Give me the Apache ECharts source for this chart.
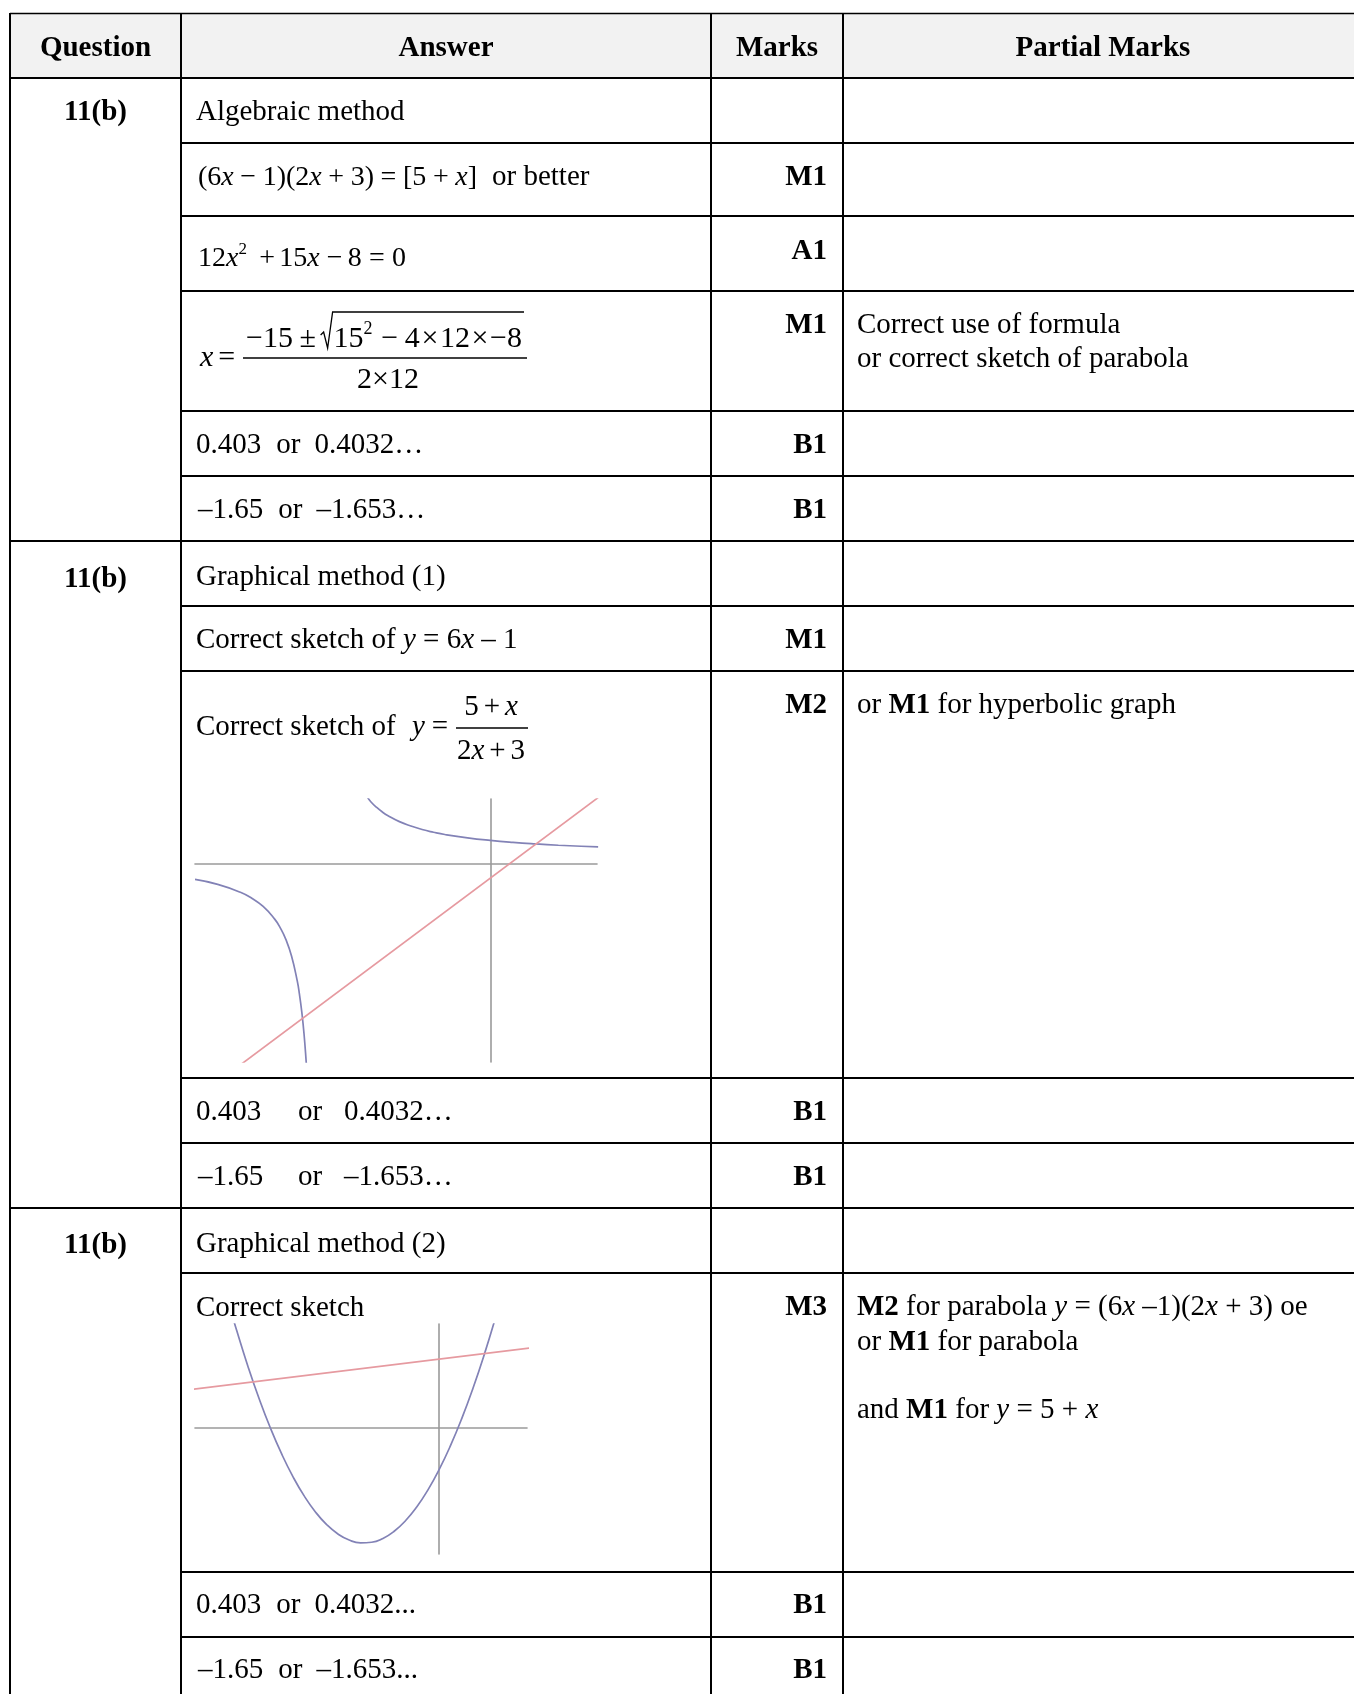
<!DOCTYPE html>
<html><head><meta charset="utf-8">
<script src="https://cdn.jsdelivr.net/npm/echarts@6/dist/echarts.min.js"></script>
<style>html,body{margin:0;padding:0;background:#fff}#c{width:1354px;height:1694px}</style>
</head><body><div id="c"></div><script>
// ---------- data ----------
const headers = ['Question', 'Answer', 'Marks', 'Partial Marks'];
const questionLabel = '11(b)';
const marks = ['M1', 'A1', 'M1', 'B1', 'B1', 'M1', 'M2', 'B1', 'B1', 'M3', 'B1', 'B1'];
// sketch 1 : y=(5+x)/(2x+3) and y=6x-1
const sketch1X = [-2.6, 0.94];
const sketch1Y = [-14, 4.6];
const hypLeft = [[-2.6,-1.09],[-2.4,-1.44],[-2.2,-2.0],[-2.1,-2.42],[-2.0,-3.0],[-1.9,-3.88],[-1.85,-4.5],[-1.8,-5.33],[-1.75,-6.5],[-1.7,-8.25],[-1.68,-9.22],[-1.66,-10.44],[-1.64,-12.0],[-1.62,-14.08],[-1.615,-14.7]];
const hypRight = [[-1.08,4.71],[-1.05,4.39],[-1.0,4.0],[-0.95,3.68],[-0.9,3.42],[-0.8,3.0],[-0.7,2.69],[-0.6,2.44],[-0.5,2.25],[-0.4,2.09],[-0.2,1.85],[0,1.67],[0.2,1.53],[0.4,1.42],[0.6,1.33],[0.8,1.26],[0.95,1.21]];
const line1 = [[-2.2,-14.2],[0.95,4.7]];
// sketch 2 : y=(6x-1)(2x+3) and y=5+x
const sketch2X = [-2.17, 0.78];
const sketch2Y = [-9.13, 7.54];
const parabola = [[-1.85,8.47],[-1.8,7.08],[-1.7,4.48],[-1.6,2.12],[-1.5,0],[-1.4,-1.88],[-1.3,-3.52],[-1.2,-4.92],[-1.1,-6.08],[-1.0,-7.0],[-0.9,-7.68],[-0.8,-8.12],[-0.7,-8.32],[-0.6,-8.28],[-0.5,-8.0],[-0.4,-7.48],[-0.3,-6.72],[-0.2,-5.72],[-0.1,-4.48],[0,-3.0],[0.1,-1.28],[0.2,0.68],[0.3,2.88],[0.4,5.32],[0.5,8.0]];
const line2 = [[-2.2,2.8],[0.8,5.8]];

// ---------- helpers ----------
const FF = '"Liberation Serif","Times New Roman",serif';
const mctx = document.createElement('canvas').getContext('2d');
function mw(t, f){ mctx.font = f; return mctx.measureText(t).width; }
const offCache = {};
function midOff(f){
  if (offCache[f] === undefined){
    mctx.font = f; mctx.textBaseline = 'middle';
    offCache[f] = mctx.measureText('H').actualBoundingBoxDescent;
    mctx.textBaseline = 'alphabetic';
  }
  return offCache[f];
}
const L = [];
function seg(x1,y1,x2,y2,w,c){ L.push({type:'line', silent:true, z:10, shape:{x1:x1,y1:y1,x2:x2,y2:y2}, style:{stroke:c||'#000', lineWidth:w||2}}); }
function run(x0, base, items, o){
  o = o || {};
  const size = o.size || 29;
  const parts = [];
  items.forEach(function(it){
    if (typeof it === 'number'){ parts.push({gap:it}); return; }
    if (it && it.rad !== undefined){ parts.push({rad:it.rad}); return; }
    let t, s;
    if (typeof it === 'string'){ t = it; s = ''; } else { t = it[0]; s = it[1]; }
    const sup = s.indexOf('s') >= 0;
    const sz = sup ? Math.round(size*0.6) : size;
    const f = (s.indexOf('i')>=0?'italic ':'') + (s.indexOf('b')>=0?'bold ':'') + sz + 'px ' + FF;
    parts.push({t:t, f:f, sup:sup, w:mw(t,f)});
  });
  let nat = 0, ng = 0;
  parts.forEach(function(p){
    if (p.gap !== undefined){ nat += p.gap; ng++; }
    else if (p.rad !== undefined) nat += p.rad;
    else nat += p.w;
  });
  let extra = 0;
  if (o.fit){ extra = ng ? (o.fit - nat)/ng : 0; nat = o.fit; }
  let x = o.align === 'center' ? x0 - nat/2 : (o.align === 'right' ? x0 - nat : x0);
  let radX = null;
  parts.forEach(function(p){
    if (p.gap !== undefined){ x += p.gap + extra; return; }
    if (p.rad !== undefined){ radX = x; x += p.rad; return; }
    const by = p.sup ? base - size*0.42 : base;
    L.push({type:'text', silent:true, z:20, style:{text:p.t, x:x, y:by - midOff(p.f), font:p.f, fill:'#000', align:'left', verticalAlign:'middle'}});
    x += p.w;
  });
  return {end:x, radX:radX};
}

// ---------- table frame ----------
const X0 = 10, XR = 1363, C1 = 181, C2 = 711, C3 = 843, YT = 13, YB = 1700;
L.push({type:'rect', silent:true, z:1, shape:{x:X0, y:YT, width:XR-X0, height:78-YT}, style:{fill:'#f2f2f2'}});
seg(X0, 13.5, XR, 13.5, 1.5);
seg(X0, 78, XR, 78, 2);
[143,216,291,411,476,606,671,1078,1143,1273,1572,1637].forEach(function(y){ seg(C1, y, XR, y, 2); });
[541,1208].forEach(function(y){ seg(X0, y, XR, y, 2); });
[X0, C1, C2, C3].forEach(function(x){ seg(x, YT, x, YB, 2); });

// ---------- header ----------
const hc = [95.5, 446, 777, 1103];
headers.forEach(function(h, i){ run(hc[i], 56, [[h,'b']], {align:'center'}); });

// ---------- question column ----------
[120, 587, 1253].forEach(function(y){ run(95.5, y, [[questionLabel,'b']], {align:'center'}); });

// ---------- marks column ----------
const markBase = [185, 259, 333, 453, 518, 648, 713, 1120, 1185, 1315, 1613, 1678];
marks.forEach(function(m, i){ run(827, markBase[i], [[m,'b']], {align:'right'}); });

// ---------- answers ----------
const AX = 196;
run(AX, 120, ['Algebraic method']);
run(198, 185, ['(6',['x','i'],0,'\u2212',0,'1)(2',['x','i'],0,'+',0,'3)',0,'=',0,'[5',0,'+',0,['x','i'],']'], {size:28, fit:279});
run(492, 185, ['or better']);
run(198, 266, ['12',['x','i'],['2','s'],9,'+',1,'15',['x','i'],4,'\u2212',2,'8',4,'=',4,'0'], {size:28, fit:208});
// quadratic formula
run(200, 366, [['x','i'],5,'='], {size:30});
const num = run(246, 347, ['\u221215',6,'\u00b1',3,{rad:14},'15',['2','s'],8,'\u2212',6,'4',1,'\u00d7',1,'12',1,'\u00d7',1,'\u22128'], {size:30, fit:276});
L.push({type:'polyline', silent:true, z:20, shape:{points:[[num.radX+1,335],[num.radX+4,332],[num.radX+8,348],[num.radX+13,312],[num.end+2,312]]}, style:{stroke:'#000', lineWidth:1.3, fill:null}});
seg(243, 358, 527, 358, 1.3);
run(388, 388, ['2','\u00d7','12'], {size:30, align:'center'});

run(AX, 453, ['0.403',15,'or',14,'0.4032\u2026']);
run(198, 518, ['\u20131.65',15,'or',14,'\u20131.653\u2026']);

run(AX, 585, ['Graphical method (1)']);
run(AX, 648, ['Correct sketch of ',['y','i'],' = 6',['x','i'],' \u2013 1']);
run(AX, 735, ['Correct sketch of']);
run(412, 735, [['y','i'],7,'='], {size:29});
run(491, 715, ['5',5,'+',5,['x','i']], {size:29, align:'center'});
seg(456, 728, 528, 728, 1.3);
run(491, 759, ['2',['x','i'],5,'+',5,'3'], {size:29, align:'center'});

run(AX, 1120, ['0.403']); run(298, 1120, ['or']); run(344, 1120, ['0.4032\u2026']);
run(198, 1185, ['\u20131.65']); run(298, 1185, ['or']); run(344, 1185, ['\u20131.653\u2026']);

run(AX, 1252, ['Graphical method (2)']);
run(AX, 1316, ['Correct sketch']);
run(AX, 1613, ['0.403',15,'or',14,'0.4032...']);
run(198, 1678, ['\u20131.65',15,'or',14,'\u20131.653...']);

// ---------- partial marks ----------
const PX = 857;
run(PX, 333, ['Correct use of formula']);
run(PX, 367, ['or correct sketch of parabola']);
run(PX, 713, ['or ',['M1','b'],' for hyperbolic graph']);
run(PX, 1315, [['M2','b'],' for parabola ',['y','i'],' = (6',['x','i'],' \u20131)(2',['x','i'],' + 3) oe']);
run(PX, 1350, ['or ',['M1','b'],' for parabola']);
run(PX, 1418, ['and ',['M1','b'],' for ',['y','i'],' = 5 + ',['x','i']]);

// ---------- chart ----------
function ax(i, r){ return {type:'value', gridIndex:i, min:r[0], max:r[1], axisLine:{show:true, onZero:true, lineStyle:{color:'#9a9a9a', width:1.6}}, axisTick:{show:false}, axisLabel:{show:false}, splitLine:{show:false}}; }
function ser(i, data, color, smooth){ return {type:'line', xAxisIndex:i, yAxisIndex:i, data:data, showSymbol:false, symbol:'none', smooth:smooth, clip:true, silent:true, lineStyle:{color:color, width:1.7}}; }
const BLUE = '#8282b6', RED = '#e69aa0';
const chart = echarts.init(document.getElementById('c'));
chart.setOption({
  animation:false,
  grid:[{left:195, top:799, width:402, height:263, show:false},{left:195, top:1324, width:332, height:230, show:false}],
  xAxis:[ax(0, sketch1X), ax(1, sketch2X)],
  yAxis:[ax(0, sketch1Y), ax(1, sketch2Y)],
  series:[ser(0, hypLeft, BLUE, true), ser(0, hypRight, BLUE, true), ser(0, line1, RED, false), ser(1, parabola, BLUE, true), ser(1, line2, RED, false)],
  graphic:{elements:L}
});
</script></body></html>
